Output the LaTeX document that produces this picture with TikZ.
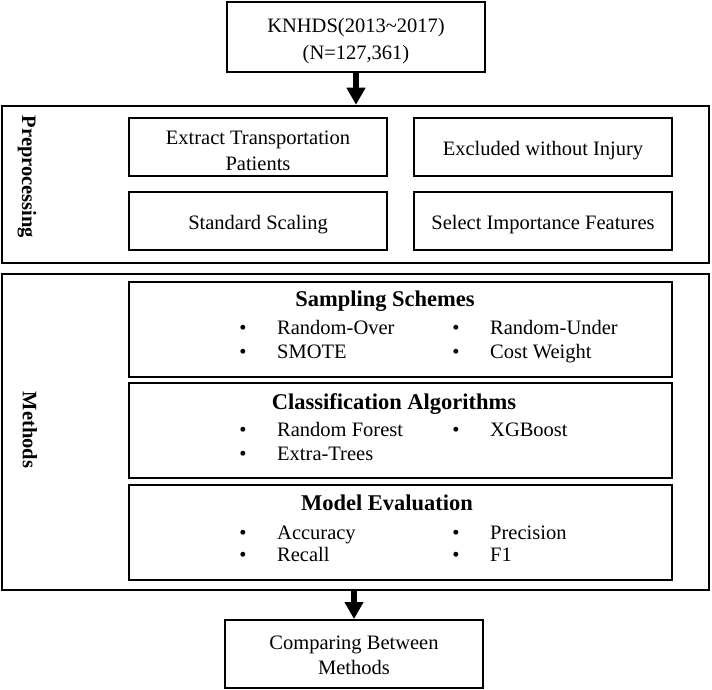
\documentclass[tikz,border=0pt]{standalone}
\usepackage{fontspec}
\setmainfont{Liberation Serif}
\usetikzlibrary{arrows.meta}
\begin{document}
\begin{tikzpicture}
[x=1pt,y=-1pt,
  boxdecorate/.style={shape=rectangle,draw,line width=2pt,inner sep=0pt},
  framedecorate/.style={shape=rectangle,draw,line width=2.5pt,inner sep=0pt},
  textdecorate/.style={font=\fontsize{20.5}{25}\selectfont,anchor=base,inner sep=0pt},
  labeldecorate/.style={font=\fontsize{20.5}{25}\selectfont\bfseries,rotate=-90,anchor=base,inner sep=0pt},
  headdecorate/.style={font=\fontsize{22.5}{27}\selectfont\bfseries,anchor=base,inner sep=0pt},
  itemdecorate/.style={font=\fontsize{20.5}{25}\selectfont,anchor=base west,inner sep=0pt},
  arrowdecorate/.style={-{Triangle[width=18pt,length=17pt]},line width=6.5pt}]
\useasboundingbox (0,0) rectangle (712,690);
%% outer boxes
\node (knhds) at (356,37) [boxdecorate,minimum width=258pt,minimum height=70pt] {};
\node (prep) at (355.5,184.5) [framedecorate,minimum width=707pt,minimum height=157pt] {};
\node (methods) at (355.5,432) [framedecorate,minimum width=707pt,minimum height=316pt] {};
\node (result) at (354,654) [boxdecorate,minimum width=258pt,minimum height=68pt] {};
\node (preplabel) at (22,177) [labeldecorate] {Preprocessing};
\node (methodslabel) at (23,430) [labeldecorate] {Methods};
%% preprocessing steps
\foreach \nodename/\x/\y in {extract/258/147, excluded/543/147, scaling/258/221, select/543/221}
{
  \node (\nodename) at (\x,\y) [boxdecorate,minimum width=258pt,minimum height=58pt] {};
}
%% text lines of the boxes
\foreach \textname/\x/\y/\line in {knhdstop/356/33/{KNHDS(2013\char`\~2017)},
  knhdsbottom/356/60/{(N=127,361)}, extracttop/258/145/{Extract Transportation},
  extractbottom/258/170/{Patients}, excludedtext/543/156/{Excluded without Injury},
  scalingtext/258/229/{Standard Scaling}, selecttext/543/229/{Select Importance Features},
  resulttop/354/649/{Comparing Between}, resultbottom/354/674/{Methods}}
{
  \node (\textname) at (\x,\y) [textdecorate] {\line};
}
%% method boxes
\foreach \boxname/\title/\x/\y/\ty in {sampling/Sampling Schemes/385/329.5/306.5,
  classification/Classification Algorithms/394/430/409.5,
  evaluation/Model Evaluation/387/532.5/510.5}
{
  \node (\boxname) at (400.5,\y) [boxdecorate,minimum width=543pt,minimum height=95pt] {};
  \node (\boxname title) at (\x,\ty) [headdecorate] {\title};
}
\foreach \itemname/\x/\y [count=\n] in {Random-Over/243/334, Random-Under/456/334,
  SMOTE/243/358, Cost Weight/456/358, Random Forest/243/436, XGBoost/456/436,
  Extra-Trees/243/460, Accuracy/243/539, Precision/456/539, Recall/243/561, F1/456/561}
{
  \node (bullet\n) at (\x,\y) [textdecorate] {\textbullet};
  \node (item\n) at (\x+34,\y) [itemdecorate] {\itemname};
}
%% arrows
\draw[arrowdecorate] (knhds.south) -- (knhds.south |- prep.north);
\draw[arrowdecorate] (result.north |- methods.south) -- (result.north);
\end{tikzpicture}
\end{document}
